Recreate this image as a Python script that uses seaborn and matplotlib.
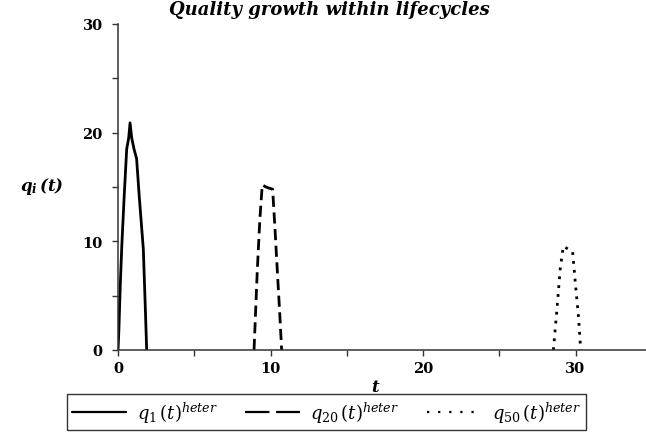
import numpy as np
import pandas as pd
import matplotlib
matplotlib.use("Agg")
import matplotlib.pyplot as plt
import seaborn as sns

# ---- data ----
t_q1 = [0.0, 0.05, 0.15, 0.25, 0.40, 0.57, 0.70, 0.79, 0.90, 1.05, 1.22, 1.40, 1.66, 1.80, 1.88]
q1 = [0.0, 1.5, 6.0, 9.6, 14.0, 18.5, 19.5, 20.9, 19.5, 18.5, 17.6, 14.0, 9.3, 3.5, 0.0]

t_q20 = [8.92, 9.13, 9.30, 9.46, 9.70, 9.90, 10.14, 10.30, 10.45, 10.60, 10.73]
q20 = [0.0, 7.2, 12.0, 15.2, 15.0, 14.9, 14.8, 11.0, 7.2, 3.5, 0.0]

t_q50 = [28.55, 28.80, 29.00, 29.20, 29.50, 29.81, 30.00, 30.20, 30.34]
q50 = [0.0, 4.0, 7.5, 9.55, 9.3, 9.05, 6.0, 3.0, 0.0]

labels = [r"$q_1\,(t)^{heter}$", r"$q_{20}\,(t)^{heter}$", r"$q_{50}\,(t)^{heter}$"]
title = "Quality growth within lifecycles"
xticks = [0, 10, 20, 30]
yticks = [0, 10, 20, 30]

sns.set_style("white")
plt.rcParams["font.family"] = ["DejaVu Serif"]
plt.rcParams["text.color"] = "black"
plt.rcParams["xtick.color"] = "black"
plt.rcParams["ytick.color"] = "black"
plt.rcParams["mathtext.fontset"] = "custom"
plt.rcParams["mathtext.rm"] = "DejaVu Serif"
plt.rcParams["mathtext.it"] = "DejaVu Serif:italic"
plt.rcParams["mathtext.bf"] = "DejaVu Serif:bold:italic"

W, H = 646, 435
fig = plt.figure(figsize=(W / 100, H / 100), dpi=100)
x0, x1, y0, y1 = 118, 646, 25, 351
ax = fig.add_axes([x0 / W, 1 - y1 / H, (x1 - x0) / W, (y1 - y0) / H])

frames = [
    pd.DataFrame({"t": t_q1, "q": q1}),
    pd.DataFrame({"t": t_q20, "q": q20}),
    pd.DataFrame({"t": t_q50, "q": q50}),
]
styles = ["-", (0, (4, 2)), (0, (1, 2.2))]
for df, ls, lab in zip(frames, styles, labels):
    sns.lineplot(data=df, x="t", y="q", ax=ax, color="black", linewidth=2.0,
                 linestyle=ls, label=lab, sort=False, estimator=None)

xmax = (x1 - x0) / 15.25
ax.set_xlim(0, xmax)
ax.set_ylim(0, 30)

for s in ["top", "right"]:
    ax.spines[s].set_visible(False)
for s in ["left", "bottom"]:
    ax.spines[s].set_color("#333333")
    ax.spines[s].set_linewidth(1.1)

ax.set_xticks(xticks)
ax.set_yticks(yticks)
ax.set_xticks([5, 15, 25], minor=True)
ax.set_yticks([5, 15, 25], minor=True)
ax.tick_params(axis="both", which="both", direction="out", length=4,
               width=1.0, color="#333333", labelcolor="black",
               bottom=True, left=True)
ax.tick_params(axis="y", which="major", pad=7)
ax.tick_params(axis="x", which="major", pad=4)
for lbl in ax.get_xticklabels() + ax.get_yticklabels():
    lbl.set_fontweight("bold")
    lbl.set_fontsize(10.5)

ax.set_xlabel("")
ax.set_ylabel("")
fig.text(375 / W, 1 - 388 / H, "t", fontsize=12, fontweight="bold",
         fontstyle="italic", ha="center", va="center", color="black")
fig.text(42 / W, 1 - 187 / H, r"$\mathbf{q_i\,(t)}$", fontsize=12,
         ha="center", va="center", color="black")
fig.text(329 / W, 1 - 10 / H, title, fontsize=13, fontweight="bold",
         fontstyle="italic", ha="center", va="center", color="black")

leg = ax.legend(loc="center", bbox_to_anchor=(326.5 / W, 1 - 413 / H),
                bbox_transform=fig.transFigure, ncol=3, frameon=True,
                fancybox=False, edgecolor="black", fontsize=13,
                handlelength=3.0, columnspacing=1.5, handletextpad=0.6,
                borderpad=0.3, borderaxespad=0, labelcolor="black")
leg.get_frame().set_linewidth(1.0)
leg_styles = ["-", (0, (11, 3)), (0, (1, 4))]
for line, ls in zip(leg.get_lines(), leg_styles):
    line.set_linewidth(1.6)
    line.set_linestyle(ls)

fig.savefig("out.png", dpi=100)
